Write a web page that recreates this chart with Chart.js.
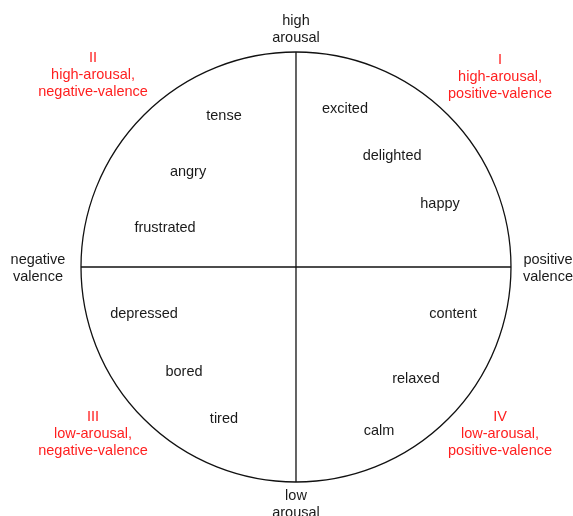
<!DOCTYPE html>
<html>
<head>
<meta charset="utf-8">
<script src="https://cdn.jsdelivr.net/npm/chart.js@4/dist/chart.umd.min.js"></script>
<style>
  body { margin: 0; background: #fff; }
  #circumplex { display: block; }
</style>
</head>
<body>
<canvas id="circumplex" width="573" height="516"></canvas>
<script>
// emotion words, placed in valence (x) / arousal (y) space, circle radius = 1
const emotionWords = ['tense', 'angry', 'frustrated', 'excited', 'delighted', 'happy',
    'depressed', 'bored', 'tired', 'content', 'relaxed', 'calm'];
const emotionValence = [-0.335, -0.502, -0.609, 0.228, 0.447, 0.670,
    -0.707, -0.521, -0.335, 0.730, 0.558, 0.386];
const emotionArousal = [0.705, 0.447, 0.186, 0.740, 0.521, 0.298,
    -0.214, -0.484, -0.702, -0.214, -0.516, -0.758];

// labels at the ends of the axes
const axisLabels = [['high', 'arousal'], ['low', 'arousal'], ['negative', 'valence'], ['positive', 'valence']];
const axisLabelX = [0, 0, -1.2, 1.172];
const axisLabelY = [1.109, -1.098, 0, 0];

// quadrant names
const quadrantLabels = [
    ['I', 'high-arousal,', 'positive-valence'],
    ['II', 'high-arousal,', 'negative-valence'],
    ['III', 'low-arousal,', 'negative-valence'],
    ['IV', 'low-arousal,', 'positive-valence']
];
const quadrantX = [0.949, -0.944, -0.944, 0.949];
const quadrantY = [0.888, 0.898, -0.772, -0.772];

const fonte = "14.5px 'Liberation Sans', Arial, Helvetica, sans-serif";
const alturaLinha = 17;

function desenharTexto(ctx, chart, linhas, x, y, cor) {
    var px = chart.scales.x.getPixelForValue(x);
    var py = chart.scales.y.getPixelForValue(y) + 1;
    var topo = py - (linhas.length - 1) * alturaLinha / 2;
    ctx.fillStyle = cor;
    for (var i = 0; i < linhas.length; i++) {
        ctx.fillText(linhas[i], px, topo + i * alturaLinha);
    }
}

const circumplexPlugin = {
    id: 'circumplex',
    beforeDatasetsDraw(chart) {
        var ctx = chart.ctx;
        var sx = chart.scales.x, sy = chart.scales.y;
        var cx = sx.getPixelForValue(0);
        var cy = sy.getPixelForValue(0);
        var r = sx.getPixelForValue(1) - cx;
        ctx.save();
        ctx.beginPath();
        ctx.arc(cx, cy, r, 0, Math.PI * 2);
        ctx.strokeStyle = '#111';
        ctx.lineWidth = 1.3;
        ctx.stroke();
        ctx.restore();
    },
    afterDatasetsDraw(chart) {
        var ctx = chart.ctx;
        ctx.save();
        ctx.font = fonte;
        ctx.textAlign = 'center';
        ctx.textBaseline = 'middle';
        for (var i = 0; i < emotionWords.length; i++) {
            desenharTexto(ctx, chart, [emotionWords[i]], emotionValence[i], emotionArousal[i], '#1a1a1a');
        }
        for (var i = 0; i < axisLabels.length; i++) {
            desenharTexto(ctx, chart, axisLabels[i], axisLabelX[i], axisLabelY[i], '#1a1a1a');
        }
        for (var i = 0; i < quadrantLabels.length; i++) {
            desenharTexto(ctx, chart, quadrantLabels[i], quadrantX[i], quadrantY[i], '#ff1f1f');
        }
        ctx.restore();
    }
};

new Chart(document.getElementById('circumplex'), {
    type: 'scatter',
    data: {
        datasets: [{
            label: 'valence axis',
            data: [{ x: -1, y: 0 }, { x: 1, y: 0 }],
            showLine: true,
            borderColor: '#111',
            borderWidth: 1.3,
            pointRadius: 0
        },
        {
            label: 'arousal axis',
            data: [{ x: 0, y: -1 }, { x: 0, y: 1 }],
            showLine: true,
            borderColor: '#111',
            borderWidth: 1.3,
            pointRadius: 0
        }]
    },
    options: {
        responsive: false,
        animation: false,
        layout: { padding: 0 },
        plugins: {
            legend: { display: false },
            tooltip: { enabled: false }
        },
        scales: {
            x: { display: false, min: -1.3767, max: 1.2884 },
            y: { display: false, min: -1.1581, max: 1.2419 }
        }
    },
    plugins: [circumplexPlugin]
});
</script>
</body>
</html>
